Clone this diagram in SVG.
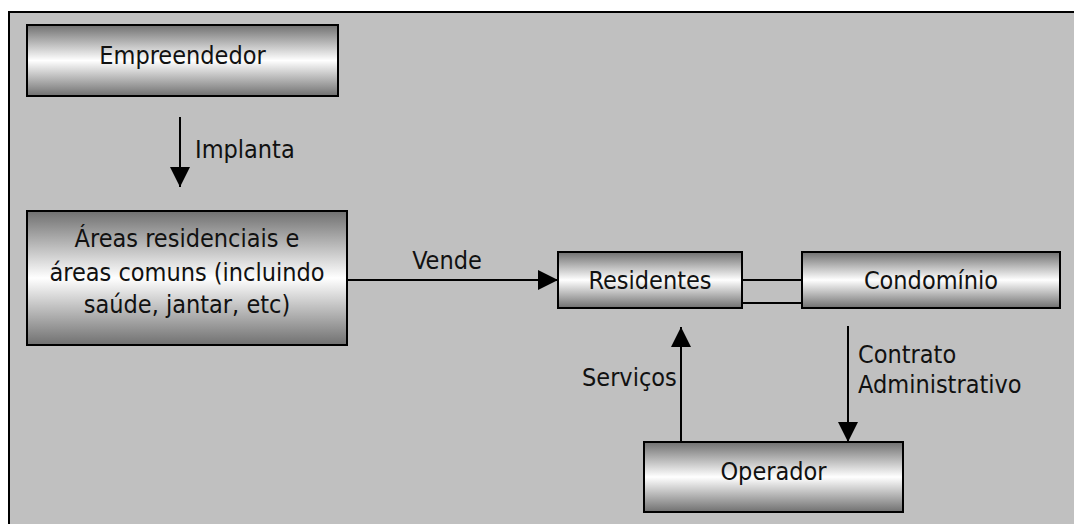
<svg xmlns="http://www.w3.org/2000/svg" width="1074" height="524" viewBox="0 0 1074 524">
<defs>
<linearGradient id="g" x1="0" y1="0" x2="0" y2="1">
<stop offset="0" stop-color="#707070"/>
<stop offset="0.5" stop-color="#ffffff"/>
<stop offset="1" stop-color="#707070"/>
</linearGradient>
<marker id="ah" viewBox="0 0 20 20" refX="20" refY="10" markerWidth="20" markerHeight="20" markerUnits="userSpaceOnUse" orient="auto">
<path d="M0,0 L20,10 L0,20 Z" fill="#000"/>
</marker>
</defs>
<style>
.box{fill:url(#g);stroke:#000;stroke-width:2}
.t{font-family:"DejaVu Sans Condensed","DejaVu Sans",sans-serif;font-stretch:condensed;font-size:25px;fill:#111}
.c{text-anchor:middle}
.ln{stroke:#000;stroke-width:2;fill:none}
</style>
<rect x="0" y="0" width="1074" height="524" fill="#fff"/>
<rect x="9" y="12" width="1080" height="530" fill="#c0c0c0" stroke="#000" stroke-width="2"/>
<g id="connectors">
<line class="ln" x1="180" y1="117" x2="180" y2="187" marker-end="url(#ah)"/>
<line class="ln" x1="347" y1="280" x2="558" y2="280" marker-end="url(#ah)"/>
<line class="ln" x1="742" y1="280" x2="802" y2="280"/>
<line class="ln" x1="742" y1="303" x2="802" y2="303"/>
<line class="ln" x1="681" y1="442" x2="681" y2="327" marker-end="url(#ah)"/>
<line class="ln" x1="848" y1="326" x2="848" y2="442" marker-end="url(#ah)"/>
<text class="t" x="195" y="158">Implanta</text>
<text class="t c" x="447" y="269">Vende</text>
<text class="t" x="582" y="386">Serviços</text>
<text class="t" x="858" y="363">Contrato</text>
<text class="t" x="858" y="393">Administrativo</text>
</g>
<g id="empreendedor">
<rect class="box" x="27" y="25" width="311" height="71"/>
<text class="t c" x="182.5" y="64">Empreendedor</text>
</g>
<g id="areas">
<rect class="box" x="27" y="211" width="320" height="134"/>
<text class="t c" x="187" y="247">Áreas residenciais e</text>
<text class="t c" x="187" y="281">áreas comuns (incluindo</text>
<text class="t c" x="187" y="313">saúde, jantar, etc)</text>
</g>
<g id="residentes">
<rect class="box" x="558" y="252" width="184" height="56"/>
<text class="t c" x="650" y="289">Residentes</text>
</g>
<g id="condominio">
<rect class="box" x="802" y="252" width="258" height="56"/>
<text class="t c" x="931" y="289">Condomínio</text>
</g>
<g id="operador">
<rect class="box" x="644" y="442" width="259" height="70"/>
<text class="t c" x="773.5" y="480">Operador</text>
</g>
</svg>
